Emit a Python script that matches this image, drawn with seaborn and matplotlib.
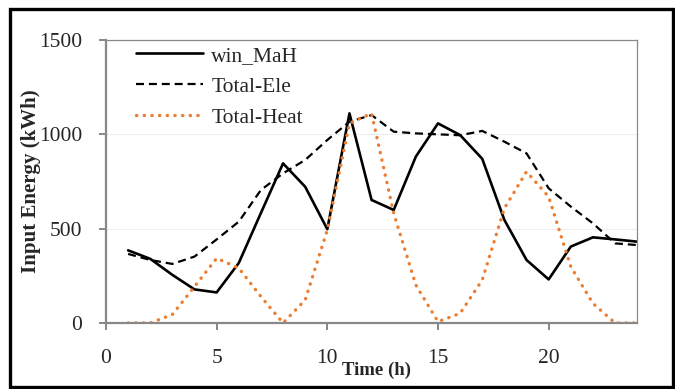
import matplotlib
matplotlib.use("Agg")
import matplotlib.pyplot as plt
import pandas as pd
import seaborn as sns
from matplotlib.patches import Rectangle

# Hourly values
hours = list(range(1, 25))
win_mah = [385, 340, 255, 178, 162, 318, 583, 846, 722, 497, 1111, 652,
           599, 882, 1058, 996, 870, 546, 334, 231, 405, 454, 443, 431]
total_ele = [366, 334, 313, 352, 443, 537, 705, 793, 864, 970, 1067, 1102,
             1014, 1005, 1000, 995, 1018, 961, 899, 714, 617, 528, 422, 413]
total_heat = [0, 0, 45, 193, 343, 291, 140, 0, 122, 493, 1058, 1111,
              581, 201, 7, 51, 228, 608, 802, 669, 298, 104, 0, 0]

df = pd.DataFrame({"Time": hours, "win_MaH": win_mah,
                   "Total-Ele": total_ele, "Total-Heat": total_heat})

sns.set_style("white")
plt.rcParams["font.family"] = ["Liberation Serif", "DejaVu Serif"]

fig = plt.figure(figsize=(6.75, 3.89), dpi=100)
ax = fig.add_axes([0.157, 0.1697, 0.787, 0.7275])

sns.lineplot(data=df, x="Time", y="win_MaH", ax=ax, color="black",
             linewidth=1.9, label="win_MaH")
sns.lineplot(data=df, x="Time", y="Total-Ele", ax=ax, color="black",
             linewidth=1.6, label="Total-Ele")
sns.lineplot(data=df, x="Time", y="Total-Heat", ax=ax, color="#ED7D31",
             linewidth=2.4, label="Total-Heat")

lines = ax.get_lines()
lines[1].set_dashes((3.6, 2.2))
lines[2].set_dashes((0.1, 2.2))
lines[2].set_dash_capstyle("round")

ax.set_xlim(0, 24)
ax.set_ylim(0, 1500)
ax.set_xticks([0, 5, 10, 15, 20])
ax.set_yticks([0, 500, 1000, 1500])
ax.grid(axis="y", color="#eeeeee", linewidth=0.8)
ax.set_axisbelow(True)

for side in ["left", "bottom"]:
    ax.spines[side].set_color("#888888")
    ax.spines[side].set_linewidth(1.6)
for side in ["top", "right"]:
    ax.spines[side].set_color("#888888")
    ax.spines[side].set_linewidth(0.9)

ax.tick_params(axis="both", direction="out", length=5, width=1.4,
               color="#888888", labelsize=15.5)
ax.tick_params(axis="x", pad=14, bottom=True)
ax.tick_params(axis="y", pad=12, left=True)

ax.set_xlabel("Time (h)", fontsize=13.5, fontweight="bold")
ax.xaxis.set_label_coords(0.51, -0.135)
ax.set_ylabel("Input Energy (kWh)", fontsize=15, fontweight="bold")
ax.yaxis.set_label_coords(-0.123, 0.5)

leg = ax.legend(loc="upper left", bbox_to_anchor=(0.04, 1.01), frameon=False,
                fontsize=15.5, handlelength=3.1, handletextpad=0.4,
                labelspacing=0.5, borderaxespad=0)

fig.patches.append(Rectangle((0.0148, 0.006), 0.982, 0.971,
                             transform=fig.transFigure, fill=False,
                             edgecolor="black", linewidth=2.4))

fig.savefig("out.png", dpi=100)
